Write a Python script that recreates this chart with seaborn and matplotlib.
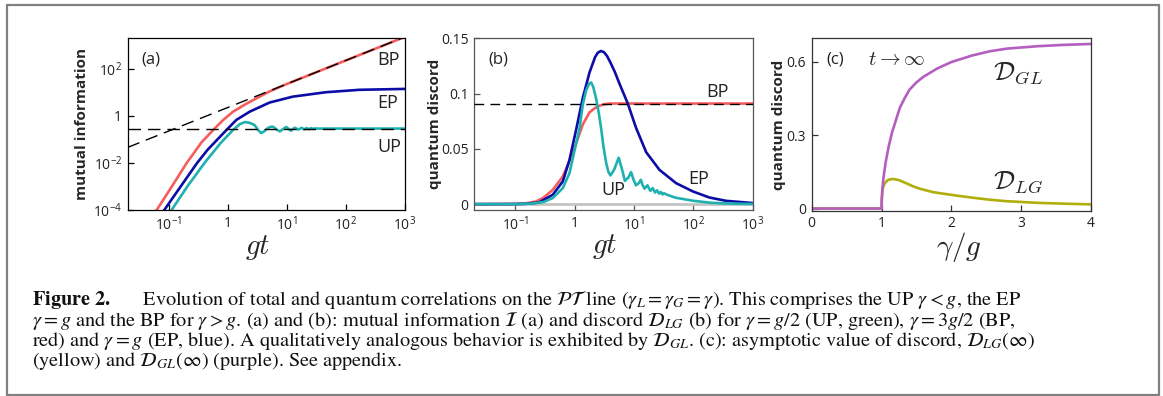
import matplotlib
matplotlib.use("Agg")
import matplotlib.pyplot as plt
import seaborn as sns
from matplotlib.patches import Rectangle
from matplotlib.ticker import FixedLocator, FixedFormatter, NullLocator

# ---- data ----
# (a) mutual information vs gt
t_bp_a = [0.05, 0.062, 0.112, 0.2, 0.356, 0.596, 0.824, 1.21, 2.05, 3.43, 5.06, 10, 100, 1000]
mi_bp = [4e-5, 1e-4, 1e-3, 1e-2, 0.075, 0.295, 0.66, 1.5, 3.3, 6.6, 11.0, 23, 230, 2300]

t_ep_a = [0.07, 0.0834, 0.158, 0.3, 0.45, 0.637, 0.94, 1.39, 2.33, 5.06, 12.5, 45.9, 168, 1000]
mi_ep = [4.5e-5, 1e-4, 1e-3, 1e-2, 0.036, 0.09, 0.25, 0.68, 1.51, 3.7, 6.6, 10.2, 12.9, 14.1]

t_up_a = [0.09, 0.111, 0.205, 0.4, 0.75, 1.21, 1.6, 1.95, 2.4, 2.85, 3.25, 3.65, 4.1, 4.7,
          5.2, 5.7, 6.2, 6.7, 7.6, 8.5, 9.7, 10.7, 11.7, 12.6, 13.6, 14.6, 15.6, 16.6, 17.6,
          18.6, 19.6, 21.6, 23.6, 25.6, 27.6, 29.6, 31.6, 33.6, 35.6, 40, 100, 1000]
mi_up = [4.3e-5, 1e-4, 1e-3, 1e-2, 0.07, 0.25, 0.45, 0.55, 0.50, 0.40, 0.25, 0.186, 0.22, 0.30,
         0.34, 0.35, 0.31, 0.26, 0.22, 0.27, 0.34, 0.28, 0.236, 0.28, 0.315, 0.285, 0.262, 0.285,
         0.31, 0.29, 0.268, 0.305, 0.273, 0.302, 0.278, 0.298, 0.282, 0.295, 0.285, 0.29, 0.29, 0.29]

asym_t = [0.02, 1000]
asym_mi = [0.046, 2300]
mi_up_level = 0.29

# (b) quantum discord vs gt
t_bp_b = [0.02, 0.1, 0.15, 0.223, 0.3, 0.426, 0.628, 0.814, 1.056, 1.365, 1.77, 2.2, 2.61, 3.2,
          3.85, 10, 100, 1000]
qd_bp = [0, 0.0002, 0.0008, 0.0024, 0.006, 0.013, 0.025, 0.039, 0.055, 0.072, 0.083, 0.087, 0.089,
         0.0905, 0.091, 0.091, 0.091, 0.091]

t_ep_b = [0.02, 0.1, 0.15, 0.25, 0.426, 0.628, 0.814, 1.056, 1.365, 1.77, 2.2, 2.45, 2.75, 3.1,
          3.5, 4.0, 4.7, 5.67, 7.83, 10.8, 16, 26.8, 51, 98, 186, 355, 1000]
qd_ep = [0, 0.0001, 0.0003, 0.0015, 0.0085, 0.0205, 0.040, 0.0675, 0.096, 0.119, 0.133, 0.137,
         0.1385, 0.1375, 0.134, 0.128, 0.12, 0.109, 0.091, 0.069, 0.047, 0.031, 0.019, 0.0115,
         0.006, 0.003, 0.001]

t_up_b = [0.02, 0.1, 0.2, 0.3, 0.426, 0.628, 0.814, 1.056, 1.2, 1.365, 1.556, 1.75, 1.89, 2.05, 2.3,
          2.55, 2.79, 3.05, 3.39, 3.7, 4.0, 4.6, 5.5, 6.3, 7.0, 8.0, 8.9, 9.8, 10.8, 12.0, 13.0,
          14.0, 15.0, 16.8, 18.8, 20.6, 22.6, 24.4, 26.4, 28.2, 30.2, 32.0, 36.0, 50, 100, 200,
          400, 1000]
qd_up = [0, 0, 0.0006, 0.002, 0.0055, 0.0145, 0.028, 0.055, 0.068, 0.09, 0.103, 0.109, 0.110, 0.106,
         0.095, 0.082, 0.068, 0.052, 0.037, 0.029, 0.026, 0.031, 0.042, 0.031, 0.021, 0.024, 0.029,
         0.022, 0.017, 0.019, 0.022, 0.017, 0.014, 0.017, 0.012, 0.0145, 0.0105, 0.0125, 0.0095,
         0.011, 0.0088, 0.0098, 0.0085, 0.0058, 0.003, 0.0012, 0.0005, 0.0002]

qd_bp_level = 0.091

# (c) asymptotic discord vs gamma/g
g_gl = [0, 1.0, 1.004, 1.012, 1.03, 1.06, 1.1, 1.15, 1.2, 1.26, 1.33, 1.4, 1.5, 1.6, 1.8, 2.0, 2.3,
        2.55, 2.8, 3.25, 3.6, 4.0]
d_gl = [0, 0, 0.04, 0.08, 0.13, 0.19, 0.25, 0.31, 0.355, 0.41, 0.45, 0.485, 0.515, 0.538, 0.572,
        0.598, 0.625, 0.642, 0.653, 0.663, 0.668, 0.672]
g_lg = [0, 1.0, 1.003, 1.009, 1.02, 1.047, 1.094, 1.16, 1.25, 1.357, 1.45, 1.547, 1.737, 1.9, 2.07,
        2.31, 2.55, 2.786, 3.26, 3.6, 4.0]
d_lg = [0, 0, 0.03, 0.06, 0.085, 0.104, 0.117, 0.121, 0.116, 0.103, 0.091, 0.081, 0.067, 0.06,
        0.053, 0.044, 0.036, 0.030, 0.023, 0.020, 0.017]

log_ticks = [0.1, 1, 10, 100, 1000]
log_ticklabels = [r'$\mathdefault{10^{-1}}$', '1', r'$\mathdefault{10^{1}}$',
                  r'$\mathdefault{10^{2}}$', r'$\mathdefault{10^{3}}$']
mi_ticks = [1e-4, 1e-2, 1, 1e2]
mi_ticklabels = [r'$\mathdefault{10^{-4}}$', r'$\mathdefault{10^{-2}}$', '1', r'$\mathdefault{10^{2}}$']
qd_ticks = [0, 0.05, 0.1, 0.15]
qd_ticklabels = ['0', '0.05', '0.1', '0.15']
c_xticks = [0, 1, 2, 3, 4]
c_yticks = [0, 0.3, 0.6]
c_yticklabels = ['0', '0.3', '0.6']

caption = [
    r"$\mathbf{Figure\ 2.}$      Evolution of total and quantum correlations on the $\mathcal{PT}$ line ($\gamma_L = \gamma_G = \gamma$). This comprises the UP $\gamma < g$, the EP",
    r"$\gamma = g$ and the BP for $\gamma > g$. (a) and (b): mutual information $\mathcal{I}$ (a) and discord $\mathcal{D}_{LG}$ (b) for $\gamma = g/2$ (UP, green), $\gamma = 3g/2$ (BP,",
    r"red) and $\gamma = g$ (EP, blue). A qualitatively analogous behavior is exhibited by $\mathcal{D}_{GL}$. (c): asymptotic value of discord, $\mathcal{D}_{LG}(\infty)$",
    r"(yellow) and $\mathcal{D}_{GL}(\infty)$ (purple). See appendix.",
]

RED = '#f75c5c'
BLUE = '#0c0ca6'
TEAL = '#1fb0b0'
PURPLE = '#b45ec0'
YELLOW = '#b0ae0a'

sns.set_theme(style='ticks')
plt.rcParams['font.family'] = ['Open Sans', 'DejaVu Sans']
plt.rcParams['mathtext.fontset'] = 'cm'
plt.rcParams['axes.linewidth'] = 0.9

W, H = 1163, 396
fig = plt.figure(figsize=(W / 100, H / 100), dpi=100)
fig.patch.set_facecolor('white')


def px_rect(l, t, r, b):
    return [l / W, 1 - b / H, (r - l) / W, (b - t) / H]


ax_a = fig.add_axes(px_rect(127.7, 38.3, 405, 210))
ax_b = fig.add_axes(px_rect(474, 38.3, 752.7, 210))
ax_c = fig.add_axes(px_rect(811.7, 38.3, 1091, 210.5))

line_kw = dict(estimator=None, sort=False, lw=1.9, legend=False)

# ---- (a) ----
ax_a.set_xscale('log')
ax_a.set_yscale('log')
sns.lineplot(x=t_bp_a, y=mi_bp, ax=ax_a, color=RED, **line_kw)
sns.lineplot(x=t_ep_a, y=mi_ep, ax=ax_a, color=BLUE, **line_kw)
sns.lineplot(x=t_up_a, y=mi_up, ax=ax_a, color=TEAL, **line_kw)
ax_a.plot(asym_t, asym_mi, color='black', lw=1.0, ls=(0, (9, 5)), zorder=5)
ax_a.plot(asym_t, [mi_up_level, mi_up_level], color='black', lw=1.0, ls=(0, (9, 5)), zorder=5)
ax_a.set_xlim(0.02, 1000)
ax_a.set_ylim(1e-4, 2000)
ax_a.xaxis.set_major_locator(FixedLocator(log_ticks))
ax_a.xaxis.set_major_formatter(FixedFormatter(log_ticklabels))
ax_a.yaxis.set_major_locator(FixedLocator(mi_ticks))
ax_a.yaxis.set_major_formatter(FixedFormatter(mi_ticklabels))
ax_a.text(0.05, 0.874, '(a)', transform=ax_a.transAxes, fontsize=12, va='center', color='#222')
for lab, yy in [('BP', 0.874), ('EP', 0.623), ('UP', 0.367)]:
    ax_a.text(0.899, yy, lab, transform=ax_a.transAxes, fontsize=13, va='center', color='#222')
ax_a.set_ylabel('mutual information', fontsize=11, fontweight='bold')
ax_a.yaxis.set_label_coords(-0.14, 0.5)

# ---- (b) ----
ax_b.set_xscale('log')
sns.lineplot(x=asym_t, y=[0, 0], ax=ax_b, color='#c4c4c4', lw=2.0, estimator=None, legend=False)
sns.lineplot(x=t_bp_b, y=qd_bp, ax=ax_b, color=RED, **line_kw)
sns.lineplot(x=t_ep_b, y=qd_ep, ax=ax_b, color=BLUE, **line_kw)
sns.lineplot(x=t_up_b, y=qd_up, ax=ax_b, color=TEAL, **line_kw)
ax_b.plot(asym_t, [qd_bp_level, qd_bp_level], color='black', lw=1.0, ls=(0, (7, 4.5)), zorder=5)
ax_b.set_xlim(0.02, 1000)
ax_b.set_ylim(-0.0053, 0.15)
ax_b.xaxis.set_major_locator(FixedLocator(log_ticks))
ax_b.xaxis.set_major_formatter(FixedFormatter(log_ticklabels))
ax_b.yaxis.set_major_locator(FixedLocator(qd_ticks))
ax_b.yaxis.set_major_formatter(FixedFormatter(qd_ticklabels))
ax_b.text(0.05, 0.879, '(b)', transform=ax_b.transAxes, fontsize=12, va='center', color='#222')
ax_b.text(0.835, 0.689, 'BP', transform=ax_b.transAxes, fontsize=13, va='center', color='#222')
ax_b.text(0.768, 0.181, 'EP', transform=ax_b.transAxes, fontsize=13, va='center', color='#222')
ax_b.text(0.458, 0.116, 'UP', transform=ax_b.transAxes, fontsize=13, va='center', color='#222')
ax_b.set_ylabel('quantum discord', fontsize=11, fontweight='bold')
ax_b.yaxis.set_label_coords(-0.116, 0.5)

# ---- (c) ----
sns.lineplot(x=g_lg, y=d_lg, ax=ax_c, color=YELLOW, **line_kw)
sns.lineplot(x=g_gl, y=d_gl, ax=ax_c, color=PURPLE, **line_kw)
ax_c.set_xlim(0, 4)
ax_c.set_ylim(-0.008, 0.695)
ax_c.xaxis.set_major_locator(FixedLocator(c_xticks))
ax_c.yaxis.set_major_locator(FixedLocator(c_yticks))
ax_c.yaxis.set_major_formatter(FixedFormatter(c_yticklabels))
ax_c.text(0.054, 0.874, '(c)', transform=ax_c.transAxes, fontsize=12, va='center', color='#222')
ax_c.text(0.2, 0.874, r'$t\rightarrow\infty$', transform=ax_c.transAxes, fontsize=15, va='center')
ax_c.text(0.649, 0.797, r'$\mathcal{D}_{GL}$', transform=ax_c.transAxes, fontsize=19, va='center')
ax_c.text(0.649, 0.162, r'$\mathcal{D}_{LG}$', transform=ax_c.transAxes, fontsize=19, va='center')
ax_c.set_ylabel('quantum discord', fontsize=11, fontweight='bold')
ax_c.yaxis.set_label_coords(-0.092, 0.5)

for ax, edge in [(ax_a, 'black'), (ax_b, '#555555'), (ax_c, '#333333')]:
    ax.xaxis.set_minor_locator(NullLocator())
    ax.yaxis.set_minor_locator(NullLocator())
    ax.tick_params(direction='in', length=4, width=0.9, labelsize=10, labelcolor='#222',
                   color=edge, top=False, right=False, pad=4)
    for sp in ax.spines.values():
        sp.set_color(edge)
    ax.grid(False)

ax_a.set_xlabel('$gt$', fontsize=21)
ax_a.xaxis.set_label_coords(0.468, -0.134)
ax_b.set_xlabel('$gt$', fontsize=21)
ax_b.xaxis.set_label_coords(0.47, -0.128)
ax_c.set_xlabel(r'$\gamma/g$', fontsize=21)
ax_c.xaxis.set_label_coords(0.527, -0.113)

# ---- caption (one text block, anchored on the baseline of its last line) ----
fig.text(31.7 / W, 1 - 366.5 / H, '\n'.join(caption), fontsize=14.6, family='STIXGeneral',
         math_fontfamily='stix', color='#111', va='baseline', ha='left', linespacing=0.9)

fig.add_artist(Rectangle((6.5 / W, 1 - 395 / H), (1159 - 6.5) / W, (395 - 4.7) / H,
                         transform=fig.transFigure, fill=False, ec='#808080', lw=1.6))

fig.savefig('out.png', dpi=100)
